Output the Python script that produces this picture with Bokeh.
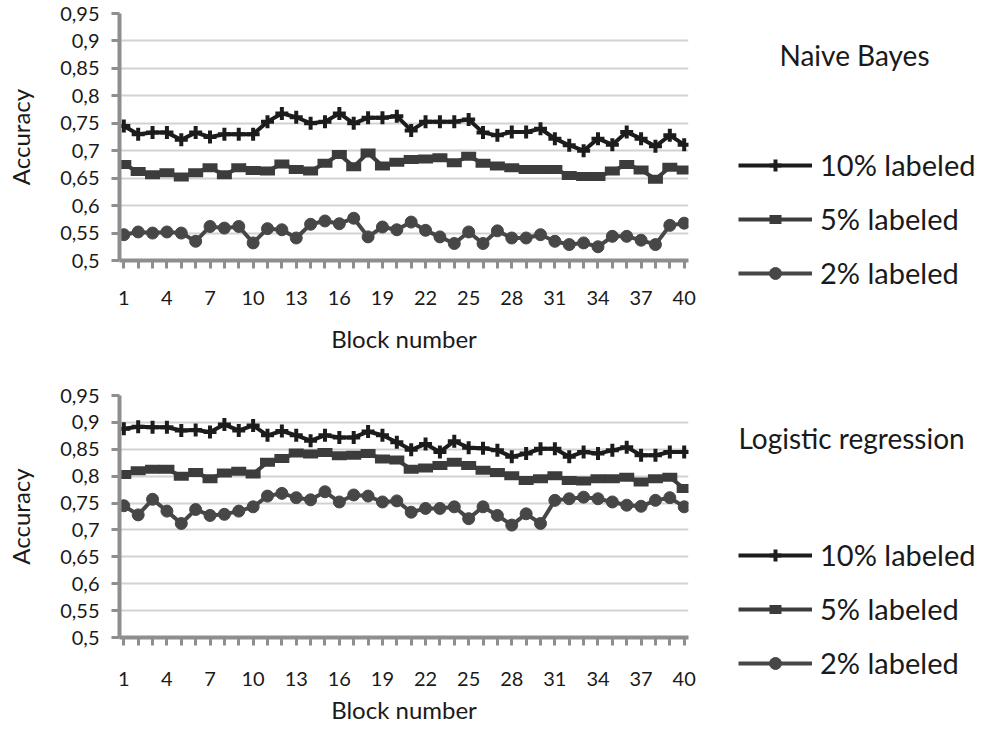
from bokeh.plotting import figure
from bokeh.models import Legend, LegendItem, Label, FixedTicker, Range1d
from bokeh.layouts import column, row
from bokeh.embed import file_html
from bokeh.resources import INLINE

blocks = list(range(1, 41))

nb_10 = [0.745, 0.73, 0.733, 0.733, 0.72, 0.733, 0.725, 0.73, 0.73, 0.73,
         0.753, 0.768, 0.761, 0.75, 0.753, 0.768, 0.75, 0.76, 0.76, 0.763,
         0.737, 0.753, 0.753, 0.753, 0.757, 0.733, 0.728, 0.734, 0.734, 0.74,
         0.722, 0.71, 0.7, 0.722, 0.711, 0.734, 0.722, 0.708, 0.728, 0.711]
nb_5 = [0.675, 0.662, 0.656, 0.66, 0.652, 0.66, 0.669, 0.656, 0.669, 0.664,
        0.663, 0.676, 0.666, 0.663, 0.677, 0.693, 0.671, 0.696, 0.672, 0.679,
        0.684, 0.685, 0.687, 0.678, 0.69, 0.677, 0.672, 0.669, 0.666, 0.666,
        0.666, 0.655, 0.653, 0.653, 0.663, 0.675, 0.665, 0.648, 0.67, 0.665]
nb_2 = [0.547, 0.552, 0.55, 0.552, 0.55, 0.535, 0.562, 0.559, 0.562, 0.532,
        0.558, 0.556, 0.541, 0.566, 0.572, 0.567, 0.577, 0.543, 0.561, 0.556,
        0.57, 0.555, 0.543, 0.531, 0.552, 0.531, 0.554, 0.541, 0.541, 0.547,
        0.535, 0.529, 0.532, 0.525, 0.544, 0.544, 0.537, 0.529, 0.564, 0.568]

lr_10 = [0.888, 0.892, 0.891, 0.891, 0.885, 0.886, 0.882, 0.896, 0.885, 0.894,
         0.876, 0.884, 0.876, 0.866, 0.876, 0.872, 0.872, 0.883, 0.876, 0.863,
         0.849, 0.86, 0.845, 0.865, 0.853, 0.852, 0.848, 0.836, 0.842, 0.851,
         0.851, 0.836, 0.845, 0.842, 0.848, 0.854, 0.839, 0.839, 0.845, 0.845]
lr_5 = [0.803, 0.81, 0.813, 0.813, 0.8, 0.807, 0.795, 0.806, 0.809, 0.804,
        0.826, 0.833, 0.843, 0.841, 0.844, 0.838, 0.839, 0.842, 0.832, 0.83,
        0.813, 0.815, 0.82, 0.826, 0.82, 0.811, 0.807, 0.801, 0.792, 0.795,
        0.801, 0.792, 0.791, 0.795, 0.795, 0.798, 0.789, 0.795, 0.798, 0.777]
lr_2 = [0.745, 0.728, 0.757, 0.735, 0.712, 0.738, 0.727, 0.729, 0.735, 0.743,
        0.763, 0.768, 0.76, 0.756, 0.771, 0.752, 0.765, 0.763, 0.752, 0.754,
        0.733, 0.74, 0.74, 0.743, 0.721, 0.743, 0.727, 0.709, 0.73, 0.712,
        0.755, 0.758, 0.761, 0.758, 0.752, 0.746, 0.744, 0.755, 0.76, 0.743]

y_ticks = [0.5, 0.55, 0.6, 0.65, 0.7, 0.75, 0.8, 0.85, 0.9, 0.95]
y_tick_labels = ["0,5", "0,55", "0,6", "0,65", "0,7", "0,75", "0,8", "0,85", "0,9", "0,95"]
x_labeled = [1, 4, 7, 10, 13, 16, 19, 22, 25, 28, 31, 34, 37, 40]
series_labels = ["10% labeled", "5% labeled", "2% labeled"]
titles = ["Naive Bayes", "Logistic regression"]
x_title = "Block number"
y_title = "Accuracy"

FONT = "Lato"
TXT = "#1a1a1a"
AXIS = "#8e8e8e"
GRID = "#d2d2d2"
C10, C5, C2 = "#1c1c1c", "#3c3c3c", "#474747"
MAIN_W = 700
LEG_W = 977 - MAIN_W


def add_series(p, s10, s5, s2, visible=True):
    l10 = p.line(blocks, s10, line_color=C10, line_width=4, visible=visible)
    m10 = p.scatter(blocks, s10, marker="cross", size=13, line_color=C10,
                    line_width=4, visible=visible)
    l5 = p.line(blocks, s5, line_color=C5, line_width=4, visible=visible)
    m5 = p.scatter(blocks, s5, marker="dash", size=15, line_color=C5,
                   line_width=9, visible=visible)
    l2 = p.line(blocks, s2, line_color=C2, line_width=4, visible=visible)
    m2 = p.scatter(blocks, s2, marker="circle", size=12, line_color=C2,
                   fill_color=C2, line_width=1, visible=visible)
    return [(l10, m10), (l5, m5), (l2, m2)]


def make_main(s10, s5, s2, height, top, bottom, xl_standoff, xa_standoff):
    p = figure(width=MAIN_W, height=height, output_backend="svg", toolbar_location=None,
               x_range=Range1d(0.7, 40.3), y_range=Range1d(0.5, 0.95),
               min_border_left=119, min_border_right=12,
               min_border_top=top, min_border_bottom=bottom)
    p.outline_line_color = None
    p.background_fill_color = "white"
    p.xgrid.grid_line_color = None
    p.ygrid.grid_line_color = GRID
    p.ygrid.grid_line_width = 2
    p.ygrid.ticker = FixedTicker(ticks=y_ticks)

    p.xaxis.ticker = FixedTicker(ticks=blocks)
    p.xaxis.major_label_overrides = {b: (str(b) if b in x_labeled else "") for b in blocks}
    p.yaxis.ticker = FixedTicker(ticks=y_ticks)
    p.yaxis.major_label_overrides = {t: l for t, l in zip(y_ticks, y_tick_labels)}
    for ax in (p.xaxis, p.yaxis):
        ax.axis_line_color = AXIS
        ax.axis_line_width = 4
        ax.major_tick_line_color = AXIS
        ax.major_tick_line_width = 3
        ax.major_tick_in = 0
        ax.major_tick_out = 8
        ax.minor_tick_line_color = None
        ax.major_label_text_font = FONT
        ax.major_label_text_font_size = "20px"
        ax.major_label_text_color = TXT
        ax.axis_label_text_font = FONT
        ax.axis_label_text_font_size = "24px"
        ax.axis_label_text_font_style = "normal"
        ax.axis_label_text_color = TXT
    p.xaxis.axis_label = x_title
    p.yaxis.axis_label = y_title
    p.xaxis.major_label_standoff = xl_standoff
    p.xaxis.axis_label_standoff = xa_standoff
    p.yaxis.major_label_standoff = 12
    p.yaxis.axis_label_standoff = 22
    add_series(p, s10, s5, s2)
    return p


def make_legend(title, s10, s5, s2, height, title_x, title_y, leg_x, leg_y):
    q = figure(width=LEG_W, height=height, output_backend="svg", toolbar_location=None,
               x_range=Range1d(0, LEG_W), y_range=Range1d(0, height),
               x_axis_type=None, y_axis_type=None,
               min_border=0)
    try:
        q.frame_align = False
    except AttributeError:
        pass
    q.outline_line_color = None
    q.xgrid.grid_line_color = None
    q.ygrid.grid_line_color = None
    pairs = add_series(q, s10, s5, s2, visible=False)
    legend = Legend(items=[LegendItem(label=lab, renderers=list(pr))
                           for lab, pr in zip(series_labels, pairs)],
                    location=(leg_x, leg_y), orientation="vertical",
                    label_text_font=FONT, label_text_font_size="29px",
                    label_text_color=TXT, glyph_width=74, glyph_height=30,
                    label_height=30, spacing=19, padding=0, margin=0,
                    label_standoff=8, border_line_color=None,
                    background_fill_alpha=0)
    q.add_layout(legend)
    lab = Label(x=title_x, y=title_y, x_units="screen", y_units="screen",
                text=title, text_font=FONT, text_font_size="28px",
                text_color=TXT, text_baseline="middle", text_align="left")
    q.add_layout(lab)
    return q


H1, H2 = 378, 348
p1 = make_main(nb_10, nb_5, nb_2, H1, 13, 118, 22, 16)
q1 = make_legend(titles[0], nb_10, nb_5, nb_2, H1, 79, 324, 38, 88)
p2 = make_main(lr_10, lr_5, lr_2, H2, 17, 86, 26, 6)
q2 = make_legend(titles[1], lr_10, lr_5, lr_2, H2, 38, 289, 38, 46)

layout = column(row(p1, q1, spacing=0), row(p2, q2, spacing=0), spacing=0)
open("out.html", "w").write(file_html(layout, INLINE))
